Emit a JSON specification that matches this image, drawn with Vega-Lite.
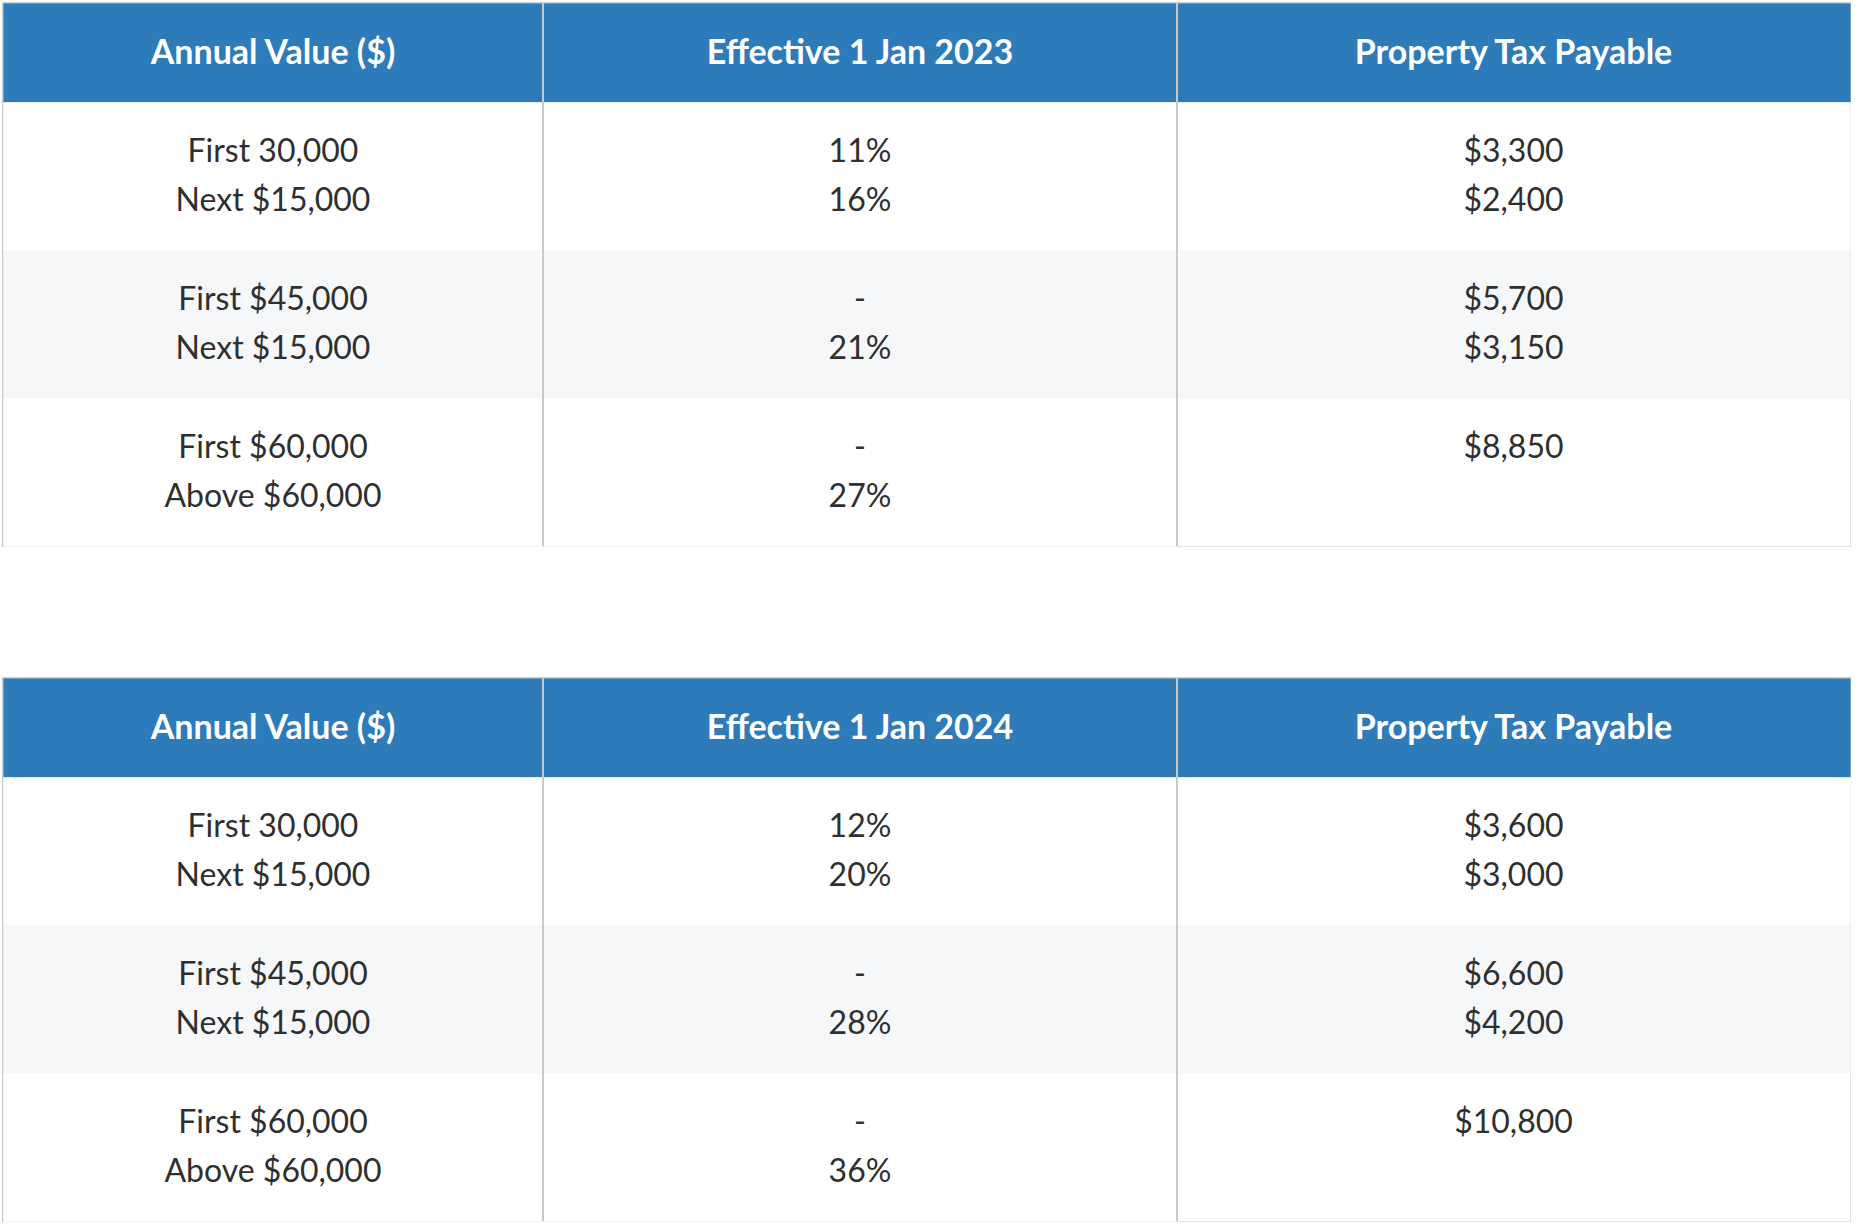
{
  "$schema": "https://vega.github.io/schema/vega-lite/v6.json",
  "padding": {"left": 2, "top": 1, "right": 0, "bottom": 0},
  "background": "white",
  "data": {"values": [
    {"table": "2023", "row": 0, "col": 0, "line": 0, "text": "Annual Value ($)"},
    {"table": "2023", "row": 0, "col": 1, "line": 0, "text": "Effective 1 Jan 2023"},
    {"table": "2023", "row": 0, "col": 2, "line": 0, "text": "Property Tax Payable"},
    {"table": "2023", "row": 1, "col": 0, "line": 1, "text": "First 30,000"},
    {"table": "2023", "row": 1, "col": 0, "line": 2, "text": "Next $15,000"},
    {"table": "2023", "row": 1, "col": 1, "line": 1, "text": "11%"},
    {"table": "2023", "row": 1, "col": 1, "line": 2, "text": "16%"},
    {"table": "2023", "row": 1, "col": 2, "line": 1, "text": "$3,300"},
    {"table": "2023", "row": 1, "col": 2, "line": 2, "text": "$2,400"},
    {"table": "2023", "row": 2, "col": 0, "line": 1, "text": "First $45,000"},
    {"table": "2023", "row": 2, "col": 0, "line": 2, "text": "Next $15,000"},
    {"table": "2023", "row": 2, "col": 1, "line": 1, "text": "-"},
    {"table": "2023", "row": 2, "col": 1, "line": 2, "text": "21%"},
    {"table": "2023", "row": 2, "col": 2, "line": 1, "text": "$5,700"},
    {"table": "2023", "row": 2, "col": 2, "line": 2, "text": "$3,150"},
    {"table": "2023", "row": 3, "col": 0, "line": 1, "text": "First $60,000"},
    {"table": "2023", "row": 3, "col": 0, "line": 2, "text": "Above $60,000"},
    {"table": "2023", "row": 3, "col": 1, "line": 1, "text": "-"},
    {"table": "2023", "row": 3, "col": 1, "line": 2, "text": "27%"},
    {"table": "2023", "row": 3, "col": 2, "line": 1, "text": "$8,850"},
    {"table": "2024", "row": 0, "col": 0, "line": 0, "text": "Annual Value ($)"},
    {"table": "2024", "row": 0, "col": 1, "line": 0, "text": "Effective 1 Jan 2024"},
    {"table": "2024", "row": 0, "col": 2, "line": 0, "text": "Property Tax Payable"},
    {"table": "2024", "row": 1, "col": 0, "line": 1, "text": "First 30,000"},
    {"table": "2024", "row": 1, "col": 0, "line": 2, "text": "Next $15,000"},
    {"table": "2024", "row": 1, "col": 1, "line": 1, "text": "12%"},
    {"table": "2024", "row": 1, "col": 1, "line": 2, "text": "20%"},
    {"table": "2024", "row": 1, "col": 2, "line": 1, "text": "$3,600"},
    {"table": "2024", "row": 1, "col": 2, "line": 2, "text": "$3,000"},
    {"table": "2024", "row": 2, "col": 0, "line": 1, "text": "First $45,000"},
    {"table": "2024", "row": 2, "col": 0, "line": 2, "text": "Next $15,000"},
    {"table": "2024", "row": 2, "col": 1, "line": 1, "text": "-"},
    {"table": "2024", "row": 2, "col": 1, "line": 2, "text": "28%"},
    {"table": "2024", "row": 2, "col": 2, "line": 1, "text": "$6,600"},
    {"table": "2024", "row": 2, "col": 2, "line": 2, "text": "$4,200"},
    {"table": "2024", "row": 3, "col": 0, "line": 1, "text": "First $60,000"},
    {"table": "2024", "row": 3, "col": 0, "line": 2, "text": "Above $60,000"},
    {"table": "2024", "row": 3, "col": 1, "line": 1, "text": "-"},
    {"table": "2024", "row": 3, "col": 1, "line": 2, "text": "36%"},
    {"table": "2024", "row": 3, "col": 2, "line": 1, "text": "$10,800"}
  ]},
  "facet": {"row": {"field": "table", "type": "nominal", "header": null, "sort": ["2023", "2024"]}},
  "spacing": 128,
  "spec": {
    "width": 1847,
    "height": 543,
    "layer": [
      {
        "mark": {"type": "rect", "strokeWidth": 0},
        "encoding": {
          "x": {"field": "col", "type": "quantitative", "bin": {"step": 1, "extent": [0, 3]},
                "scale": {"domain": [0, 1, 2, 3], "range": [0, 540, 1174, 1847], "zero": false, "nice": false}, "axis": null},
          "y": {"field": "row", "type": "quantitative", "bin": {"step": 1, "extent": [0, 4]},
                "scale": {"domain": [0, 1, 2, 3, 4], "range": [0, 99, 247, 395, 543], "zero": false, "nice": false}, "axis": null},
          "fill": {"field": "row", "type": "ordinal",
                   "scale": {"domain": [0, 1, 2, 3], "range": ["#2E7BBA", "#FFFFFF", "#F6F7F9", "#FFFFFF"]}, "legend": null}
        }
      },
      {
        "transform": [{"filter": "datum.row == 0 && datum.col > 0"}],
        "mark": {"type": "rule", "color": "#C9C9C9", "strokeWidth": 2},
        "encoding": {
          "x": {"field": "col", "type": "quantitative"}
        }
      },
      {
        "transform": [{"filter": "datum.line == 0"}],
        "mark": {"type": "text", "font": "Lato", "fontSize": 34, "fontWeight": "bold", "color": "#FFFFFF", "align": "center", "baseline": "middle"},
        "encoding": {
          "x": {"field": "col", "type": "quantitative", "bin": {"step": 1, "extent": [0, 3]}},
          "y": {"field": "row", "type": "quantitative", "bin": {"step": 1, "extent": [0, 4]}, "bandPosition": 0.52},
          "text": {"field": "text"}
        }
      },
      {
        "transform": [{"filter": "datum.line == 1"}],
        "mark": {"type": "text", "font": "Lato", "fontSize": 32, "color": "#2F2F2F", "align": "center", "baseline": "middle"},
        "encoding": {
          "x": {"field": "col", "type": "quantitative", "bin": {"step": 1, "extent": [0, 3]}},
          "y": {"field": "row", "type": "quantitative", "bin": {"step": 1, "extent": [0, 4]}, "bandPosition": 0.336},
          "text": {"field": "text"}
        }
      },
      {
        "transform": [{"filter": "datum.line == 2"}],
        "mark": {"type": "text", "font": "Lato", "fontSize": 32, "color": "#2F2F2F", "align": "center", "baseline": "middle"},
        "encoding": {
          "x": {"field": "col", "type": "quantitative", "bin": {"step": 1, "extent": [0, 3]}},
          "y": {"field": "row", "type": "quantitative", "bin": {"step": 1, "extent": [0, 4]}, "bandPosition": 0.672},
          "text": {"field": "text"}
        }
      }
    ]
  },
  "config": {"view": {"stroke": "#C9C9C9", "strokeWidth": 2}}
}
